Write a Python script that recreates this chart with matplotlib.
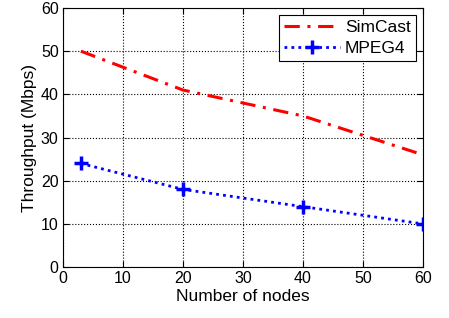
import matplotlib
matplotlib.use('Agg')
import matplotlib.pyplot as plt

plt.rcParams['font.family'] = ['Liberation Sans', 'DejaVu Sans']

# data
nodes = [3, 20, 40, 60]
simcast = [50, 41, 35, 26]
mpeg4 = [24, 18, 14, 10]

fig = plt.figure(figsize=(4.49, 3.18), dpi=100)
ax = fig.add_axes([0.140, 0.160, 0.802, 0.815])

ax.plot(nodes, simcast, color='red', linestyle=(0, (5, 2.5, 1, 2.5)), linewidth=2.2, label='SimCast')
ax.plot(nodes, mpeg4, color='blue', linestyle=(0, (1, 1.5)), linewidth=2.0, marker='+',
        markersize=10, markeredgewidth=2.5, label='MPEG4')

ax.set_xlim(0, 60)
ax.set_ylim(0, 60)
ax.set_xticks(range(0, 61, 10))
ax.set_yticks(range(0, 61, 10))
ax.grid(True, color='black', linestyle=':', linewidth=0.8)
ax.tick_params(direction='in', labelsize=11.5, length=4, pad=3)
ax.tick_params(top=True, right=True)
ax.set_xlabel('Number of nodes', fontsize=12.5, labelpad=2)
ax.set_ylabel('Throughput (Mbps)', fontsize=12.5, labelpad=3)

leg = ax.legend(loc='upper right', fontsize=12.5, fancybox=False, edgecolor='black',
                framealpha=1, handlelength=3.2, borderaxespad=0.4,
                borderpad=0.3, labelspacing=0.3, handletextpad=0.3)
leg.get_frame().set_linewidth(0.8)

fig.savefig('out.png', dpi=100)
